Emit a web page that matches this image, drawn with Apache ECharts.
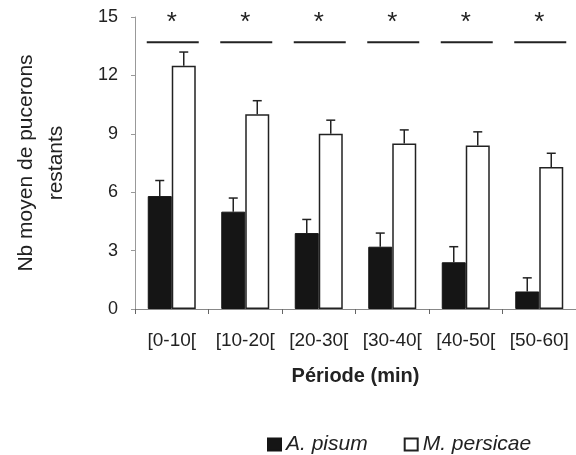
<!DOCTYPE html>
<html>
<head>
<meta charset="utf-8">
<script src="https://cdn.jsdelivr.net/npm/echarts@6/dist/echarts.min.js"></script>
<style>
  html, body { margin: 0; padding: 0; background: #fff; }
  #chart { width: 576px; height: 455px; }
</style>
</head>
<body>
<div id="chart"></div>
<script>
// periods on the x axis
const periods = ['[0-10[', '[10-20[', '[20-30[', '[30-40[', '[40-50[', '[50-60]']
// mean remaining aphids
const pisum = [5.8, 5.0, 3.9, 3.2, 2.4, 0.9]
const persicae = [12.5, 10.0, 9.0, 8.5, 8.4, 7.3]
// top of the error bars
const pisumErr = [6.6, 5.7, 4.6, 3.9, 3.2, 1.6]
const persicaeErr = [13.2, 10.7, 9.7, 9.2, 9.1, 8.0]
// significance marks
const sigLevel = [13.7, 13.7, 13.7, 13.7, 13.7, 13.7]
const yTicks = [0, 3, 6, 9, 12, 15]

const font = 'Liberation Sans, Arial, sans-serif'
const chart = echarts.init(document.getElementById('chart'))

// draws error bars (up only, with cap) offset from category centre
const errRender = (offset, low, high) => (params, api) => {
  const i = api.value(0)
  const base = api.coord([i, low[i]])
  const top = api.coord([i, high[i]])
  const x = base[0] + offset
  return {
    type: 'group',
    children: [
      { type: 'line', shape: { x1: x, y1: base[1], x2: x, y2: top[1] }, style: { stroke: '#222', lineWidth: 1.5 } },
      { type: 'line', shape: { x1: x - 4.5, y1: top[1], x2: x + 4.5, y2: top[1] }, style: { stroke: '#222', lineWidth: 1.5 } }
    ]
  }
}

const sigRender = (params, api) => {
  const i = api.value(0)
  const p = api.coord([i, sigLevel[i]])
  return {
    type: 'group',
    children: [
      { type: 'line', shape: { x1: p[0] - 25, y1: p[1], x2: p[0] + 27, y2: p[1] }, style: { stroke: '#222', lineWidth: 2 } },
      { type: 'text', x: p[0], y: p[1] - 19, style: { text: '*', font: '26px ' + font, fill: '#222', align: 'center', verticalAlign: 'middle' } }
    ]
  }
}

chart.setOption({
  animation: false,
  backgroundColor: '#fff',
  grid: { left: 135, top: 17, width: 442, height: 292 },
  legend: {
    top: 429,
    left: 262,
    itemWidth: 13,
    itemHeight: 12,
    itemGap: 36,
    icon: 'rect',
    textStyle: { fontFamily: font, fontSize: 21, fontStyle: 'italic', color: '#222' },
    data: ['A. pisum', 'M. persicae']
  },
  xAxis: {
    type: 'category',
    data: periods,
    name: 'Période (min)',
    nameLocation: 'middle',
    nameGap: 57,
    nameTextStyle: { fontFamily: font, fontSize: 20, fontWeight: 'bold', color: '#222' },
    axisLine: { lineStyle: { color: '#888', width: 1 } },
    axisTick: { show: true, length: 5, lineStyle: { color: '#666' } },
    axisLabel: { fontFamily: font, fontSize: 19, color: '#222', margin: 22, interval: 0 }
  },
  yAxis: {
    type: 'value',
    min: 0,
    max: 15,
    interval: 3,
    name: 'Nb moyen de pucerons\nrestants',
    nameLocation: 'middle',
    nameGap: 64,
    nameTextStyle: { fontFamily: font, fontSize: 21, color: '#222', lineHeight: 30 },
    axisLine: { show: true, lineStyle: { color: '#999', width: 1 } },
    axisTick: { show: true, length: 4, lineStyle: { color: '#999' } },
    splitLine: { show: false },
    axisLabel: { fontFamily: font, fontSize: 18, color: '#222', margin: 17,
      formatter: v => (yTicks.includes(v) ? String(v) : '') }
  },
  series: [
    {
      name: 'A. pisum',
      type: 'bar',
      data: pisum,
      barWidth: 24,
      barGap: '0%',
      itemStyle: { color: '#151515', borderColor: '#151515', borderWidth: 1 }
    },
    {
      name: 'M. persicae',
      type: 'bar',
      data: persicae,
      barWidth: 24,
      itemStyle: { color: '#fff', borderColor: '#222', borderWidth: 1.5 }
    },
    {
      type: 'custom',
      renderItem: errRender(-12, pisum, pisumErr),
      data: periods.map((p, i) => [i]),
      encode: { x: 0 },
      z: 5
    },
    {
      type: 'custom',
      renderItem: errRender(12, persicae, persicaeErr),
      data: periods.map((p, i) => [i]),
      encode: { x: 0 },
      z: 5
    },
    {
      type: 'custom',
      renderItem: sigRender,
      data: periods.map((p, i) => [i]),
      encode: { x: 0 },
      z: 5
    }
  ]
})
</script>
</body>
</html>
